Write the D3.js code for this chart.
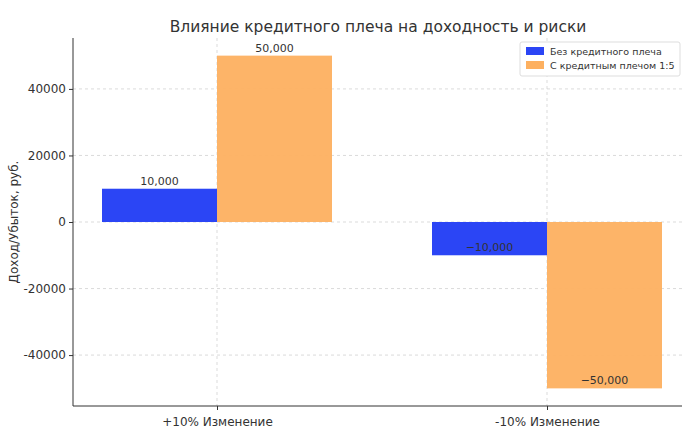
<!DOCTYPE html>
<html><head><meta charset="utf-8">
<script src="https://cdn.jsdelivr.net/npm/d3@7"></script>
<style>body{margin:0;background:#fff}text{font-family:"DejaVu Sans",sans-serif}</style>
</head><body><svg id="c" width="696" height="432"></svg>
<script>
const categories=["+10% Изменение","-10% Изменение"];
const seriesNames=["Без кредитного плеча","С кредитным плечом 1:5"];
const noLeverage=[10000,-10000];
const leverage=[50000,-50000];
const yTicks=[-40000,-20000,0,20000,40000];
const colors=["#2b45f5","#fdb060"];
const svg=d3.select("#c");
const m={l:73,r:682,t:38,b:406};
const x=d3.scalePoint().domain(categories).range([217,547]);
const y=d3.scaleLinear().domain([-55300,55300]).range([m.b,m.t]);
const bw=115;
const g=svg.append("g");
// grid
yTicks.forEach(t=>g.append("line").attr("x1",m.l).attr("x2",m.r).attr("y1",y(t)).attr("y2",y(t)).attr("stroke","#ccc").attr("stroke-dasharray","3,3").attr("stroke-width",0.7));
categories.forEach(c=>g.append("line").attr("x1",x(c)).attr("x2",x(c)).attr("y1",m.t).attr("y2",m.b).attr("stroke","#ccc").attr("stroke-dasharray","3,3").attr("stroke-width",0.7));
const series=[noLeverage,leverage];
series.forEach((s,i)=>{
  s.forEach((v,j)=>{
    const x0=x(categories[j])+(i===0?-bw:0);
    g.append("rect").attr("x",x0).attr("width",bw).attr("y",Math.min(y(v),y(0))).attr("height",Math.abs(y(v)-y(0))).attr("fill",colors[i]).attr("opacity",i===0?1:0.95);
    g.append("text").attr("x",x0+bw/2).attr("y",y(v)-4).attr("text-anchor","middle").attr("font-size",11).attr("fill","#333").text(d3.format(",")(v));
  });
});
const ya=svg.append("g").attr("transform",`translate(${m.l},0)`).call(d3.axisLeft(y).tickValues(yTicks).tickFormat(d=>String(d)).tickSize(4));
const xa=svg.append("g").attr("transform",`translate(0,${m.b})`).call(d3.axisBottom(x).tickSize(4));
[ya,xa].forEach(a=>{a.selectAll("text").attr("font-size",12).attr("fill","#333");a.select(".domain").attr("stroke","#333");a.selectAll(".tick line").attr("stroke","#333");});
ya.select(".domain").attr("d",`M0,${m.t}V${m.b}`);
xa.select(".domain").attr("d",`M${m.l},0H${m.r}`);
xa.selectAll("text").attr("dy","1.1em");
svg.append("text").attr("x",378).attr("y",32).attr("text-anchor","middle").attr("font-size",15.5).attr("fill","#333").text("Влияние кредитного плеча на доходность и риски");
svg.append("text").attr("transform","translate(18,222) rotate(-90)").attr("text-anchor","middle").attr("font-size",12).attr("fill","#333").text("Доход/Убыток, руб.");
const lg=svg.append("g").attr("transform","translate(520,42)");
lg.append("rect").attr("width",160).attr("height",34).attr("fill","#fff").attr("stroke","#ddd").attr("rx",2);
seriesNames.forEach((n,i)=>{
  lg.append("rect").attr("x",6).attr("y",5+i*14).attr("width",18).attr("height",8).attr("fill",colors[i]);
  lg.append("text").attr("x",30).attr("y",12.5+i*14).attr("font-size",9.5).attr("fill","#333").text(n);
});
</script></body></html>
